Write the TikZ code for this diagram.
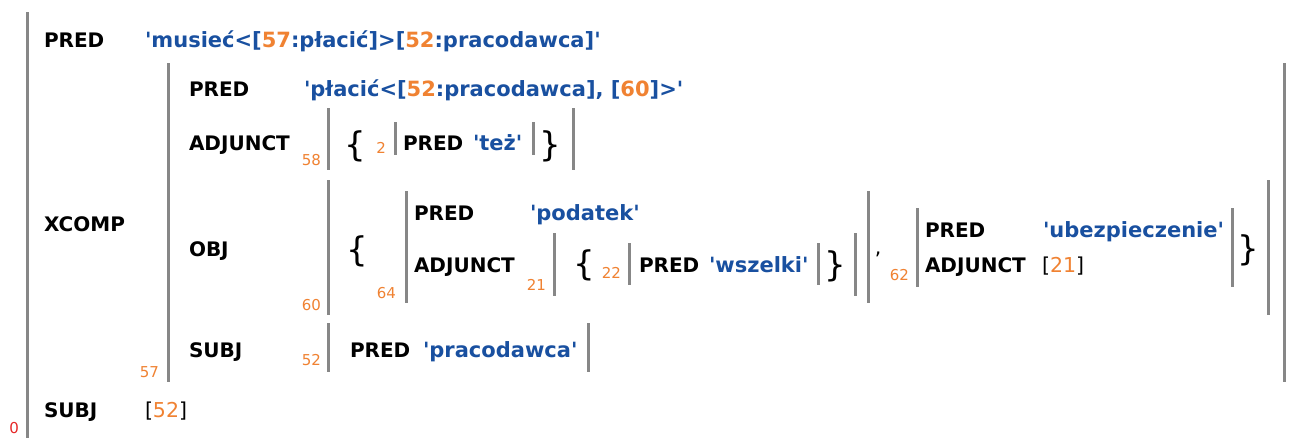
\documentclass[tikz,border=0pt]{standalone}
\usepackage{fontspec}
\setmainfont{DejaVu Sans}[Ligatures=TeXOff]
\definecolor{vblue}{RGB}{25,80,160}
\definecolor{vorange}{RGB}{240,130,50}
\definecolor{vred}{RGB}{230,40,40}
\definecolor{vbar}{RGB}{135,135,135}
\newcommand\ix[1]{\textcolor{vorange}{#1}}
\begin{document}
\begin{tikzpicture}[x=1pt,y=-1pt,
  lbl/.style={anchor=base west, inner sep=0pt, outer sep=0pt, font=\fontsize{20}{24}\selectfont\bfseries},
  val/.style={lbl, text=vblue, font=\fontsize{21}{24}\selectfont\bfseries},
  ref/.style={anchor=base west, inner sep=0pt, outer sep=0pt, font=\fontsize{20.5}{24}\selectfont},
  num/.style={anchor=base east, inner sep=0pt, outer sep=0pt, font=\fontsize{15}{18}\selectfont, text=vorange},
  brc/.style={inner sep=0pt, outer sep=0pt, font=\fontsize{34}{36}\selectfont},
  fbar/.style={draw=vbar, line width=3pt}]
\fill[white] (0,0) rectangle (1292,437);
\useasboundingbox (0,0) rectangle (1292,437);
% f-structure 0
\draw[fbar] (27.5,12) -- (27.5,445);
\node[num, text=vred] (n0) at (19,433) {0};
\node[lbl] (p0) at (44,47) {PRED};
\node[val] (v0) at (145,47) {'musieć<[\ix{57}:płacić]>[\ix{52}:pracodawca]'};
\node[lbl] (xc) at (44,231) {XCOMP};
\node[lbl] (s0) at (44,417) {SUBJ};
\node[ref] (s0v) at (145,417) {[\ix{52}]};
% f-structure 57
\draw[fbar] (168.5,63) -- (168.5,382);
\draw[fbar] (1284,63) -- (1284,382);
\node[num] (n57) at (159,377) {57};
\node[lbl] (p57) at (189,96) {PRED};
\node[val] (v57) at (304,96) {'płacić<[\ix{52}:pracodawca], [\ix{60}]>'};
\node[lbl] (a57) at (189,150) {ADJUNCT};
\node[lbl] (o57) at (189,256) {OBJ};
\node[lbl] (s57) at (189,357) {SUBJ};
% set 58
\draw[fbar] (328.5,108) -- (328.5,170);
\draw[fbar] (573,108) -- (573,170);
\node[num] (n58) at (321,165) {58};
\node[brc] (b58l) at (355,146) {\{};
\node[brc] (b58r) at (550,146) {\}};
% f-structure 2
\draw[fbar] (395,122) -- (395,155);
\draw[fbar] (533.5,122) -- (533.5,155);
\node[num] (n2) at (386,153) {2};
\node[lbl] (p2) at (403,150) {PRED};
\node[val] (v2) at (473,150) {'też'};
% set 60
\draw[fbar] (328.5,180) -- (328.5,315);
\draw[fbar] (1268,180) -- (1268,315);
\node[num] (n60) at (321,310) {60};
\node[brc] (b60l) at (357,251) {\{};
\node[brc] (b60r) at (1248,250) {\}};
% f-structure 64
\draw[fbar] (406,191) -- (406,303);
\draw[fbar] (868,191) -- (868,303);
\node[num] (n64) at (396,298) {64};
\node[lbl] (p64) at (414,220) {PRED};
\node[val] (v64) at (530,220) {'podatek'};
\node[lbl] (a64) at (414,272) {ADJUNCT};
% set 21
\draw[fbar] (554,233) -- (554,296);
\draw[fbar] (855,233) -- (855,296);
\node[num] (n21) at (546,290) {21};
\node[brc] (b21l) at (584,265) {\{};
\node[brc] (b21r) at (835,266) {\}};
% f-structure 22
\draw[fbar] (629,243) -- (629,285);
\draw[fbar] (818,243) -- (818,285);
\node[num] (n22) at (621,278) {22};
\node[lbl] (p22) at (639,272) {PRED};
\node[val] (v22) at (709,272) {'wszelki'};
% separator
\node[ref, anchor=center] (sep) at (878,254) {,};
% f-structure 62
\draw[fbar] (917,208) -- (917,287);
\draw[fbar] (1232,208) -- (1232,287);
\node[num] (n62) at (909,280) {62};
\node[lbl] (p62) at (925,237) {PRED};
\node[val] (v62) at (1043,237) {'ubezpieczenie'};
\node[lbl] (a62) at (925,272) {ADJUNCT};
\node[ref] (r62) at (1042,272) {[\ix{21}]};
% f-structure 52
\draw[fbar] (328.5,323) -- (328.5,372);
\draw[fbar] (588,323) -- (588,372);
\node[num] (n52) at (321,365) {52};
\node[lbl] (p52) at (350,357) {PRED};
\node[val] (v52) at (423,357) {'pracodawca'};
\end{tikzpicture}
\end{document}
